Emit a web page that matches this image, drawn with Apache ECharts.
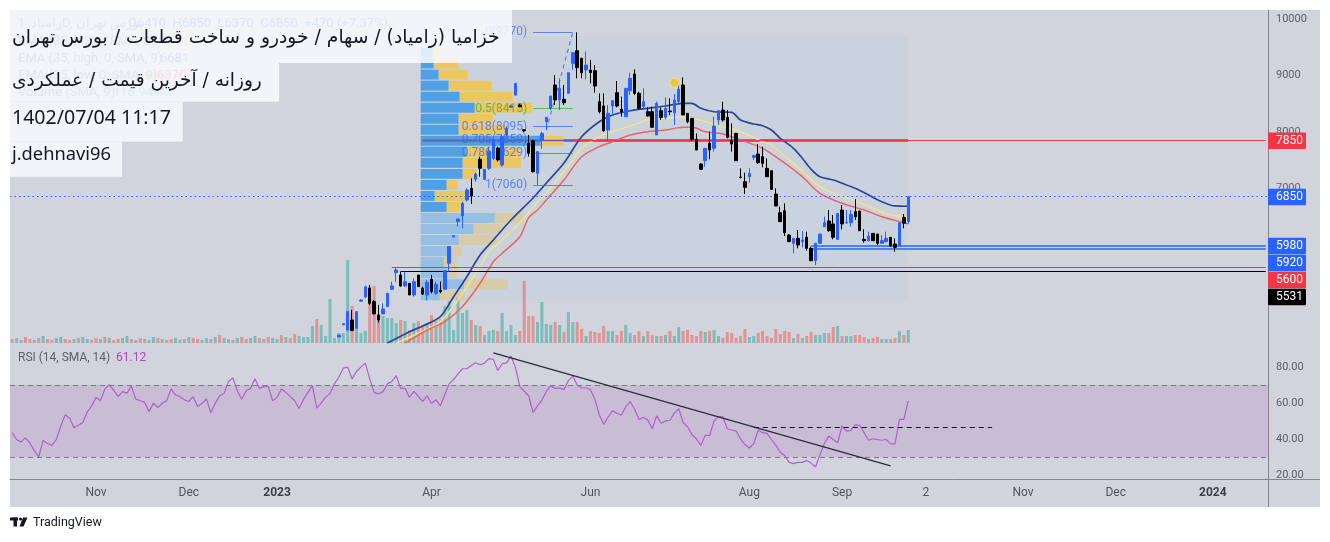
<!DOCTYPE html>
<html><head><meta charset="utf-8">
<script src="https://cdn.jsdelivr.net/npm/echarts@6/dist/echarts.min.js"></script>
<style>
html,body{margin:0;padding:0;background:#ffffff;overflow:hidden;}
#bg{position:absolute;left:10px;top:10px;width:1310px;height:497px;background:#d1d4dc;}
#c{position:absolute;left:0;top:0;width:1330px;height:542px;}
</style></head><body>
<div id="bg"></div><div id="c"></div>
<script>
// ---------------- DATA ----------------
const N = 285; // bar slots incl. future
const tickIdx = [19, 40, 60, 95, 131, 167, 188, 207, 229, 250, 272];
const tickLabels = ['Nov', 'Dec', '2023', 'Apr', 'Jun', 'Aug', 'Sep', '2', 'Nov', 'Dec', '2024'];

const candleStart = 74;
// [open, high, low, close]
const candles = [
[4360,4400,4350,4390],[4575,4600,4570,4595],[4484,4827,4472,4809],[4661,4839,4472,4472],[4513,4809,4513,4809],
[4995,5030,4990,5015],[5070,5271,5046,5250],[5224,5283,4928,4957],[4987,5016,4768,4768],[4750,4928,4614,4661],
[4768,4957,4768,4857],[4898,5135,4898,5135],[5206,5342,5194,5265],[5502,5597,5342,5549],[5460,5520,5253,5265],
[5265,5520,5253,5342],[5312,5312,5105,5105],[5105,5401,5076,5342],[5460,5460,5253,5253],[5224,5253,5105,5123],
[5105,5372,5005,5330],[5383,5460,5135,5164],[5135,5342,5105,5295],[5194,5342,5135,5164],[5206,5537,5206,5537],
[5668,5964,5520,5964],[6140,6170,6130,6160],[6407,6455,6319,6455],[6508,6763,6289,6733],[6792,7000,6763,6970],
[6999,7177,6721,6863],[7159,7278,7118,7254],[7515,7562,7207,7355],[7159,7337,7159,7337],[7355,7739,7325,7651],
[7532,7887,7503,7858],[7710,7739,7473,7503],[7414,7947,7384,7917],[7950,8100,7900,8060],[8440,8480,8430,8462],
[8655,8863,8655,8863],[8480,8500,8440,8450],[8040,8050,8000,8024],[7799,7947,7561,7622],[7845,7858,7280,7295],
[7266,7651,7059,7651],[7858,8000,7700,7975],[8183,8260,8035,8260],[8420,8639,8391,8639],[8835,9012,8479,8568],
[8568,8953,8391,8776],[8580,8835,8479,8521],[8687,9054,8687,9054],[9219,9409,9101,9409],[9444,9770,8953,9142],
[9308,9320,8953,9054],[9101,9427,8935,9190],[9101,9279,8864,9054],[9089,9190,8698,8817],[8539,8687,8331,8361],
[8462,8687,8006,8024],[8035,8479,7846,8331],[8462,8557,8302,8557],[8698,8906,8438,8462],[8402,8628,8272,8361],
[8272,8775,8272,8775],[8734,9054,8657,8953],[9030,9113,8657,8687],[8687,8716,8402,8420],[8450,8775,8402,8539],
[8361,8438,8272,8284],[8361,8450,8083,8083],[7947,8539,7947,8509],[8379,8438,8213,8260],[8260,8616,8225,8420],
[8373,8598,8302,8361],[8343,8675,8124,8568],[8539,8852,8509,8758],[8835,8971,8302,8302],[8331,8331,8154,8183],
[8243,8243,7846,7870],[7870,7976,7680,7680],[7432,7444,7325,7337],[7491,7710,7384,7710],[7799,8006,7515,7680],
[7710,8272,7651,8106],[8213,8391,8124,8379],[8390,8538,8183,8213],[8260,8391,7887,7905],[7846,8153,7650,7786],
[7976,7976,7490,7490],[7200,7354,7177,7195],[7117,7277,6898,7017],[7206,7354,7100,7265],[7550,7585,7502,7585],
[7609,7786,7431,7455],[7562,7739,7372,7443],[7354,7532,7206,7206],[7313,7313,6969,6981],[6898,6999,6685,6685],
[6567,6673,6407,6407],[6602,6733,6152,6212],[6170,6188,6052,6052],[6022,6111,5845,6111],[6111,6259,5933,5993],
[6052,6241,5951,6081],[6129,6229,5892,5933],[5933,5963,5714,5714],[5714,6022,5637,6022],[6022,6188,6022,6188],
[6318,6496,6318,6389],[6419,6614,6229,6247],[6366,6525,6093,6129],[6093,6555,6093,6555],[6614,6703,6271,6366],
[6389,6614,6366,6395],[6389,6614,6318,6537],[6585,6810,6437,6496],[6597,6597,6247,6247],[6093,6271,6034,6070],
[6070,6229,6052,6152],[6200,6200,6070,6070],[6188,6188,5993,6022],[6022,6170,6022,6070],[6052,6229,6034,6111],
[6129,6129,5963,5975],[6010,6111,5874,5951],[5975,6389,5975,6389],[6484,6543,6289,6380],[6410,6850,6370,6850]
];

const volumes = [
16,20,12,24,16,12,20,28,16,12, 20,24,16,12,16,20,24,16,12,20, 16,24,20,12,16,20,28,16,12,20,
16,12,24,20,16,12,16,20,12,16, 24,20,16,12,20,16,24,32,20,16, 12,20,24,16,20,28,20,16,24,20,
16,32,24,20,36,28, 24,24,68,96,72,28,176,20,
40,40,332,148,60,40,48,228,228,116, 108,100,100,80,92,88,52,80,88,72,
80,112,88,96,148,168,52,180,120,132, 92,72,68,32,48,52,48,120,48,72,
32,48,248,108,108,84,164,76,72,84, 72,44,124,84,84,56,28,48,44,40,
68,48,48,32,48,72,40,32,48,28, 48,32,28,28,32,48,28,64,48,52,
32,28,48,44,48,52,28,20,44,40, 20,28,56,24,28,40,48,28,20,56,
36,48,44,20,36,20,28,44,32,32, 40,40,64,68,28,28,28,32,32,24,
16,20,24,16,16,16,20,48,32,52
];
const volDirEarly = 'duuddududd' + 'uudduduudd' + 'ududduudud' + 'duududduud' + 'udduududuu' + 'dudduududu' + 'ududdu' + 'uuuduuuu';

const rsi = [
43.5,39.7,38.4,40.6,37.8,33.5,30.0,39.2,37.5,36.4, 39.7,47.2,53.4,51.5,46.3,47.6,49.1,55.0,58.4,63.1,
61.2,67.8,70.2,67.0,63.6,66.3,65.5,69.3,62.1,61.2, 60.3,55.2,59.9,57.5,59.9,61.2,67.8,64.4,63.5,61.8,
60.8,63.5,58.0,59.7,62.3,54.5,59.9,64.0,65.3,71.9, 73.9,66.8,62.1,66.8,68.1,73.4,68.1,69.1,69.3,61.2,
63.1,67.8,65.9,63.5,61.2,56.9,62.1,65.9,69.6,57.1, 60.0,63.1,65.3,70.6,74.3,79.3,79.9,73.4,77.5,79.9,
82.1,73.4,65.9,65.0,66.3,70.6,71.9,75.2,68.1,68.1, 63.1,66.4,63.6,60.8,64.0,59.7,61.8,58.4,64.6,70.6,
73.0,76.2,79.0,79.0,80.8,82.3,81.2,82.1,84.6,84.2, 78.0,81.8,82.3,86.1,79.9,69.1,66.5,64.0,54.7,58.4,
61.6,66.3,69.6,68.1,68.3,67.4,72.4,74.9,70.0,68.3, 68.3,67.4,62.1,53.4,48.1,52.2,55.6,54.3,53.2,57.9,
60.8,56.5,50.9,51.9,50.6,45.7,52.8,48.7,50.0,50.4, 54.3,56.9,49.1,46.8,42.5,40.1,36.4,42.0,42.0,50.0,
52.4,52.4,45.7,45.0,44.4,40.1,36.9,35.0,37.5,45.0, 43.5,43.1,39.7,36.4,32.6,30.8,27.0,26.3,27.0,27.0,
28.1,26.6,24.4,31.3,37.5,41.6,39.7,37.9,47.2,44.4, 44.8,47.8,47.6,43.5,39.3,40.1,39.7,39.3,39.7,37.3,
37.3,50.9,50.9,61.12
];
const rsiTrend = [[109, 87.8], [199, 25.0]];
const rsiLevel = [[168, 46.3], [222, 46.3]];

const emaHigh = [[85,4250],[90,4453],[93,4554],[97,4720],[100,5075],[103,5430],[106,5815],[109,6082],[113,6437],[118,6828],[121,7094],[125,7449],[129,7916],[133,8183],[136,8302],[140,8378],[144,8421],[148,8462],[152,8510],[154,8510],[156,8421],[159,8360],[163,8350],[165,8213],[168,8142],[170,8112],[172,8035],[174,7888],[177,7710],[179,7533],[181,7337],[183,7206],[186,7147],[188,7089],[191,7000],[194,6881],[197,6762],[200,6686],[203,6681]];
const emaMid = [[87,4250],[92,4425],[97,4631],[101,5016],[105,5490],[108,5874],[111,6082],[115,6384],[119,6762],[121,6911],[125,7295],[129,7710],[133,7916],[136,8005],[140,8106],[144,8213],[148,8243],[152,8272],[155,8225],[159,8142],[165,8005],[170,7828],[172,7769],[176,7503],[180,7236],[183,7028],[187,6881],[191,6780],[195,6645],[199,6526],[203,6496]];
const emaLow = [[89,4250],[94,4483],[98,4631],[102,4897],[106,5313],[109,5696],[111,5846],[115,6140],[117,6480],[119,6615],[121,6792],[125,7147],[129,7561],[133,7739],[136,7828],[140,7947],[144,8005],[148,8035],[152,8083],[154,8083],[157,8005],[161,7964],[165,7858],[170,7710],[174,7503],[179,7206],[183,6911],[188,6734],[193,6615],[197,6496],[202,6389],[203,6370]];

// volume profile rows (top -> bottom)
const vpUp   = [0,12,13,18,28,39,54,38,38,120,46,42,42,26,14,26,74,53,38,28,23,26,43,19];
const vpDown = [0, 8,25,29,43,53,57,34,48, 23,53,58,14,11,30,13,28,29,38,13,13,10,44,25];
const vpInVA = [0, 1, 1, 1, 1, 1, 1, 1, 1,  1, 1, 1, 1, 1, 1, 1, 0, 0, 0, 0, 0, 0, 0, 0];
const vpRange = [93, 203];
const pocPrice = 7850;

const fibLevels = [0, 0.5, 0.618, 0.705, 0.786, 1];
const fibPrices = [9770, 8415, 8095, 7859, 7629, 7060];
const fibRange = [118, 127];
const fibTrend = [[121, 8035], [127, 9770]];

const hPrices = [7850, 5980, 5920, 5600, 5531];
const hStart  = [120, 181, 181, 86, 88];
const lastPrice = 6850;
const tagPrices = [7850, 6850, 5980, 5920, 5600, 5531];
const alertPoint = [150, 8875];

// ---------------- CHART ----------------
const FONT = 'Roboto, "Liberation Sans", sans-serif';
const labelAt = {}; tickIdx.forEach((t, k) => labelAt[t] = tickLabels[k]);
const cats = Array.from({length: N}, (_, i) => 'b' + i);

const upVol = 'rgba(38,166,154,0.5)', dnVol = 'rgba(239,83,80,0.5)';
const volData = volumes.map((v, i) => {
  let up;
  if (i < candleStart) up = volDirEarly[i] === 'u';
  else { const c = candles[i - candleStart]; up = c[3] >= c[0]; }
  return {value: [i, v], itemStyle: {color: up ? upVol : dnVol}};
});
const kData = candles.map((c, j) => [candleStart + j, c[0], c[3], c[2], c[1]]);

const fibColor = (l) => l === 0.5 ? 'rgba(76,175,80,0.85)' : 'rgba(41,98,255,0.7)';
const fibLines = fibPrices.map((p, k) => [
  {coord: [fibRange[0], p], lineStyle: {color: fibColor(fibLevels[k]), width: 1, type: 'solid'},
   label: {show: true, position: 'start', distance: 6, formatter: fibLevels[k] + '(' + p + ')',
           color: fibColor(fibLevels[k]), fontSize: 12, fontFamily: FONT}},
  {coord: [fibRange[1], p]}
]);
fibLines.push([{coord: fibTrend[0], lineStyle: {color: 'rgba(41,98,255,0.75)', width: 1.2, type: [4, 4]}, label: {show: false}}, {coord: fibTrend[1]}]);

const hColors = ['#f23645', '#2962ff', '#2962ff', '#f23645', '#000000'];
const hWidths = [1, 1.5, 1.5, 1, 1];
const hLines = hPrices.map((p, k) => [
  {coord: [hStart[k], p], lineStyle: {color: hColors[k], width: hWidths[k], type: 'solid'}},
  {coord: [N - 1, p]}
]);
hLines.push({yAxis: lastPrice, lineStyle: {color: '#2962ff', width: 1, type: [1.5, 3]}});

const rowCats = vpUp.map((_, k) => 'r' + k);

const option = {
  animation: false,
  backgroundColor: 'transparent',
  textStyle: {fontFamily: FONT},
  grid: [
    {left: 10, top: 10, width: 1258, height: 333, outerBoundsMode: 'none'},
    {left: 10, top: 343, width: 1258, height: 136.3, outerBoundsMode: 'none'},
    {left: 420.7, top: 36, width: 486, height: 264.7, show: true, backgroundColor: '#c9d2dd', borderWidth: 0, outerBoundsMode: 'none'}
  ],
  xAxis: [
    {type: 'category', gridIndex: 0, data: cats, show: false},
    {type: 'category', gridIndex: 1, data: cats,
     axisLine: {show: true, lineStyle: {color: '#83868f', width: 1}},
     axisTick: {show: false}, splitLine: {show: false},
     axisLabel: {interval: (i) => labelAt[i] !== undefined, margin: 8, color: '#50535e', fontSize: 12, fontFamily: FONT,
       formatter: (v, i) => { const l = labelAt[i]; if (l === undefined) return ''; return /^\d{4}$/.test(l) ? '{y|' + l + '}' : l; },
       rich: {y: {fontWeight: 'bold', color: '#3d404a', fontSize: 12, fontFamily: FONT}}}},
    {type: 'value', gridIndex: 2, min: 0, max: 486, show: false}
  ],
  yAxis: [
    {type: 'value', gridIndex: 0, position: 'right', min: 4252, max: 10167, splitNumber: 5,
     axisLine: {show: true, lineStyle: {color: '#83868f'}}, axisTick: {show: false}, splitLine: {show: false},
     axisLabel: {color: '#5d606b', fontSize: 11, fontFamily: FONT, margin: 8, showMinLabel: false, showMaxLabel: false,
       formatter: (v) => String(v)}},
    {type: 'value', gridIndex: 0, min: 0, max: 1332, show: false},
    {type: 'value', gridIndex: 1, position: 'right', min: 17.6, max: 93.3, splitNumber: 4,
     axisLine: {show: true, lineStyle: {color: '#83868f'}}, axisTick: {show: false}, splitLine: {show: false},
     axisLabel: {color: '#5d606b', fontSize: 11, fontFamily: FONT, margin: 8, showMinLabel: false, showMaxLabel: false,
       formatter: (v) => v.toFixed(2)}},
    {type: 'category', gridIndex: 2, data: rowCats, inverse: true, show: false}
  ],
  series: [
    {type: 'line', name: 'poc', xAxisIndex: 0, yAxisIndex: 0, data: [[vpRange[0], pocPrice], [vpRange[1], pocPrice]],
     showSymbol: false, symbol: 'none', lineStyle: {color: '#ff1f1f', width: 2.6}, z: 1, zlevel: 0, silent: true},
    {type: 'bar', name: 'vol', xAxisIndex: 0, yAxisIndex: 1, data: volData, barWidth: 3, z: 2, silent: true},
    {type: 'bar', name: 'vpUp', xAxisIndex: 2, yAxisIndex: 3, stack: 'vp', barCategoryGap: '10%', z: 3, silent: true,
     data: vpUp.map((v, k) => ({value: v, itemStyle: {color: vpInVA[k] ? 'rgba(33,140,232,0.72)' : 'rgba(33,150,243,0.3)'}}))},
    {type: 'bar', name: 'vpDn', xAxisIndex: 2, yAxisIndex: 3, stack: 'vp', barCategoryGap: '10%', z: 3, silent: true,
     data: vpDown.map((v, k) => ({value: v, itemStyle: {color: vpInVA[k] ? 'rgba(251,192,45,0.72)' : 'rgba(251,192,45,0.3)'}}))},
    {type: 'line', name: 'emaHigh', xAxisIndex: 0, yAxisIndex: 0, data: emaHigh, showSymbol: false, symbol: 'none', smooth: 0.3,
     lineStyle: {color: '#2d4597', width: 1.7}, z: 4, silent: true},
    {type: 'line', name: 'emaMid', xAxisIndex: 0, yAxisIndex: 0, data: emaMid, showSymbol: false, symbol: 'none', smooth: 0.3,
     lineStyle: {color: '#f1e38c', width: 1.5}, z: 4, silent: true},
    {type: 'line', name: 'emaLow', xAxisIndex: 0, yAxisIndex: 0, data: emaLow, showSymbol: false, symbol: 'none', smooth: 0.3,
     lineStyle: {color: '#ef6262', width: 1.5}, z: 4, silent: true},
    {type: 'candlestick', name: 'price', xAxisIndex: 0, yAxisIndex: 0, data: kData, encode: {x: 0, y: [1, 2, 3, 4]},
     barWidth: 3, z: 5, silent: true,
     itemStyle: {color: '#2962ff', color0: '#000000', borderColor: '#2962ff', borderColor0: '#000000', borderWidth: 1}},
    {type: 'line', name: 'lines', xAxisIndex: 0, yAxisIndex: 0, data: [], z: 6, silent: true,
     markLine: {silent: true, symbol: ['none', 'none'], label: {show: false}, animation: false, data: hLines.concat(fibLines)}},
    {type: 'scatter', name: 'alert', xAxisIndex: 0, yAxisIndex: 0, data: [alertPoint], symbolSize: 9, z: 7, silent: true,
     itemStyle: {color: '#f5c21b', borderColor: '#f9dc7a', borderWidth: 1.5}},
    {type: 'line', name: 'rsi', xAxisIndex: 1, yAxisIndex: 2, data: rsi, showSymbol: false, symbol: 'none',
     lineStyle: {color: '#b25fcc', width: 1.2}, z: 3, silent: true,
     markArea: {silent: true, itemStyle: {color: 'rgba(169,97,185,0.2)'}, data: [[{yAxis: 30}, {yAxis: 70}]]},
     markLine: {silent: true, symbol: ['none', 'none'], label: {show: false}, animation: false, data: [
       {yAxis: 70, lineStyle: {color: '#787b86', width: 1, type: [5, 4]}},
       {yAxis: 30, lineStyle: {color: '#787b86', width: 1, type: [5, 4]}},
       [{coord: rsiTrend[0], lineStyle: {color: '#2a2e39', width: 1.3, type: 'solid'}}, {coord: rsiTrend[1]}],
       [{coord: rsiLevel[0], lineStyle: {color: '#131722', width: 1.2, type: [5, 4]}}, {coord: rsiLevel[1]}]
     ]}}
  ]
};

const chart = echarts.init(document.getElementById('c'));
chart.setOption(option);

// ---------------- OVERLAY TEXT / TAGS ----------------
const mctx = document.createElement('canvas').getContext('2d');
function fitSize(text, family, target, maxSize) {
  mctx.font = '100px ' + family;
  const w = mctx.measureText(text).width;
  return Math.min(maxSize, 100 * target / w);
}
function T(x, y, text, fill, size, family, z, weight, align) {
  return {type: 'text', z: z || 50, silent: true,
    style: {x: x, y: y, text: text, fill: fill, font: (weight || 'normal') + ' ' + size + 'px ' + family,
            textAlign: align || 'left', textVerticalAlign: 'middle', verticalAlign: 'middle'}};
}
function R(x, y, w, h, fill, z, r) {
  return {type: 'rect', z: z || 50, silent: true, shape: {x: x, y: y, width: w, height: h, r: r || 0}, style: {fill: fill}};
}
const g = [];
// faded legend (under boxes)
g.push(T(18, 24, 'زامیاد, 1D, بورس تهران', '#6a6d78', 13, FONT, 60));
g.push(T(128, 24, 'O6410  H6850  L6370  C6850  +470 (+7.37%)', '#2962ff', 13, FONT, 60));
g.push(T(18, 42, 'EMA (35, hl2, 0, SMA, 9)', '#6a6d78', 13, FONT, 60));
g.push(T(160, 42, '6525', '#d9b53a', 13, FONT, 60));
g.push(T(18, 59, 'EMA (35, high, 0, SMA, 9)', '#6a6d78', 13, FONT, 60));
g.push(T(160, 59, '6681', '#2962ff', 13, FONT, 60));
g.push(T(18, 76, 'EMA (35, low, 0, SMA, 9)', '#6a6d78', 13, FONT, 60));
g.push(T(157, 76, '6370', '#f23645', 13, FONT, 60));
g.push(T(18, 93, 'Volume (SMA, 9)', '#6a6d78', 13, FONT, 60));
g.push(T(113, 93, '116.949M', '#26a69a', 13, FONT, 60));

// white boxes
const boxFill = 'rgba(248,249,251,0.86)';
const FA = '"DejaVu Sans", "Noto Sans", sans-serif';
const FL = '"Noto Sans", "Open Sans", sans-serif';
const boxes = [
  {x: 10, y: 10, w: 502, h: 53, text: 'خزامیا (زامیاد) / سهام / خودرو و ساخت قطعات / بورس تهران', fam: FA, tw: 488, cy: 38},
  {x: 10, y: 63, w: 269, h: 38.7, text: 'روزانه / آخرین قیمت / عملکردی', fam: FA, tw: 250, cy: 81.5},
  {x: 10, y: 101.7, w: 172.7, h: 40, text: '1402/07/04 11:17', fam: FL, tw: 159, cy: 118.5},
  {x: 10, y: 141.7, w: 112, h: 35, text: 'j.dehnavi96', fam: FL, tw: 99, cy: 155}
];
boxes.forEach(b => {
  g.push(R(b.x, b.y, b.w, b.h, boxFill, 70));
  const fs = fitSize(b.text, b.fam, b.tw, 23);
  g.push(T(12, b.cy, b.text, '#131722', fs.toFixed(2), b.fam, 71));
});

// RSI legend
g.push(T(18, 358, 'RSI (14, SMA, 14)', '#5d606b', 12, FONT, 60));
g.push(T(116, 358, '61.12', '#ab47bc', 12, FONT, 60));

// axis lines extension
g.push({type: 'line', z: 40, silent: true, shape: {x1: 1268.5, y1: 479.3, x2: 1268.5, y2: 507}, style: {stroke: '#83868f', lineWidth: 1}});
g.push({type: 'line', z: 40, silent: true, shape: {x1: 1268, y1: 479.5, x2: 1320, y2: 479.5}, style: {stroke: '#83868f', lineWidth: 1}});

// price tags
const tagColor = {7850: '#f23645', 6850: '#2962ff', 5980: '#2962ff', 5920: '#2962ff', 5600: '#f23645', 5531: '#000000'};
const tagYs = tagPrices.map(p => chart.convertToPixel({yAxisIndex: 0}, p));
let order = tagPrices.map((p, k) => k).sort((a, b) => tagYs[a] - tagYs[b]);
let prev = -1e9;
order.forEach(k => {
  let y = Math.max(tagYs[k], prev + 17);
  prev = y;
  g.push(R(1268, y - 8, 38, 16.5, tagColor[tagPrices[k]], 80, 1));
  g.push(T(1276, y + 0.5, String(tagPrices[k]), '#ffffff', 12, FONT, 81));
});

// TradingView logo
g.push(R(10, 517.5, 8, 3, '#131722', 60));
g.push(R(13.5, 517.5, 3.5, 9, '#131722', 60));
g.push({type: 'circle', z: 60, silent: true, shape: {cx: 20.5, cy: 519, r: 1.6}, style: {fill: '#131722'}});
g.push({type: 'polygon', z: 60, silent: true, shape: {points: [[23, 517.5], [27.5, 517.5], [23.5, 526.5], [19.5, 526.5]]}, style: {fill: '#131722'}});
g.push(T(33, 523, 'TradingView', '#131722', 12.5, FONT, 60));

chart.setOption({graphic: {elements: g}});
</script>
</body></html>
